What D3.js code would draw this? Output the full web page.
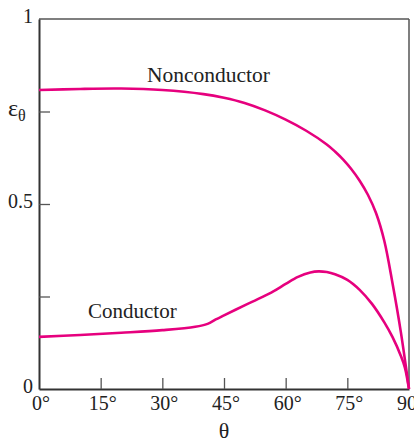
<!DOCTYPE html>
<html>
<head>
<meta charset="utf-8">
<script src="https://cdn.jsdelivr.net/npm/d3@7"></script>
<style>
  body { margin: 0; background: #fff; }
  svg { display: block; }
  text { font-family: "Liberation Serif", "DejaVu Serif", serif; fill: #222; }
</style>
</head>
<body>
<svg width="414" height="441"></svg>
<script>
// emissivity vs angle
var thetaNon = [0, 10, 20, 30, 40, 45, 50, 55, 60, 65, 70, 72, 74, 76, 78, 80, 82, 84, 86, 88, 90];
var epsNon = [0.808, 0.811, 0.812, 0.808, 0.797, 0.787, 0.773, 0.753, 0.728, 0.698, 0.661, 0.642, 0.620, 0.594, 0.563, 0.525, 0.475, 0.400, 0.285, 0.155, 0];

var thetaCond = [0, 10, 20, 30, 38, 41, 43, 45, 50, 54, 57, 60, 63, 66, 68, 70, 72, 75, 78, 81, 84, 86, 88, 89, 90];
var epsCond = [0.141, 0.146, 0.152, 0.159, 0.168, 0.176, 0.188, 0.199, 0.226, 0.247, 0.264, 0.284, 0.303, 0.315, 0.318, 0.316, 0.310, 0.295, 0.268, 0.230, 0.180, 0.140, 0.090, 0.058, 0];

var xTicks = [0, 15, 30, 45, 60, 75, 90];
var yTicks = [0, 0.25, 0.5, 0.75, 1];
var yTickLabels = ["0", "", "0.5", "", "1"];

var svg = d3.select("svg");
var pLeft = 39, pRight = 409, pTop = 19, pBottom = 389;

var x = d3.scaleLinear().domain([0, 90]).range([pLeft, pRight]);
var y = d3.scaleLinear().domain([0, 1]).range([pBottom, pTop]);

// frame (top + right)
svg.append("line").attr("x1", pLeft).attr("x2", pRight).attr("y1", pTop).attr("y2", pTop)
  .attr("stroke", "#555").attr("stroke-width", 1.5);
svg.append("line").attr("x1", pRight).attr("x2", pRight).attr("y1", pTop).attr("y2", pBottom)
  .attr("stroke", "#555").attr("stroke-width", 1.5);

var yAxis = svg.append("g").attr("transform", "translate(" + pLeft + ",0)")
  .call(d3.axisLeft(y).tickValues(yTicks).tickSizeInner(-11).tickSizeOuter(0).tickFormat(""));
var xAxis = svg.append("g").attr("transform", "translate(0," + pBottom + ")")
  .call(d3.axisBottom(x).tickValues(xTicks).tickSizeInner(-11).tickSizeOuter(0).tickFormat(""));

[yAxis, xAxis].forEach(function(a) {
  a.select(".domain").attr("stroke", "#333").attr("stroke-width", 2);
  a.selectAll(".tick line").attr("stroke", "#555").attr("stroke-width", 1.3);
});
xAxis.selectAll(".tick").filter(function(d) { return d == 0 || d == 90; }).select("line").remove();
yAxis.selectAll(".tick").filter(function(d) { return d == 0 || d == 1; }).select("line").remove();

// y tick labels
svg.selectAll(".ylab").data(yTicks).enter().append("text")
  .attr("x", 33).attr("y", function(d) { return y(d) + 4; })
  .attr("text-anchor", "end").attr("font-size", 20)
  .text(function(d, i) { return yTickLabels[i]; });

// eps_theta label at 0.75
var ey = svg.append("text").attr("x", 8).attr("y", y(0.75) + 4).attr("font-size", 24);
ey.append("tspan").text("ε");
ey.append("tspan").attr("font-size", 16).attr("dy", 5).text("θ");

// x tick labels
svg.selectAll(".xlab").data(xTicks).enter().append("text")
  .attr("x", function(d) { return x(d) + 2; }).attr("y", 410)
  .attr("text-anchor", "middle").attr("font-size", 20)
  .text(function(d) { return d + "°"; });

svg.append("text").attr("x", x(45)).attr("y", 438).attr("text-anchor", "middle")
  .attr("font-size", 22).text("θ");

var line = d3.line()
  .x(function(d) { return x(d[0]); })
  .y(function(d) { return y(d[1]); })
  .curve(d3.curveCatmullRom.alpha(0.5));

svg.append("path").datum(d3.zip(thetaNon, epsNon)).attr("d", line)
  .attr("fill", "none").attr("stroke", "#e6007e").attr("stroke-width", 2.6);
svg.append("path").datum(d3.zip(thetaCond, epsCond)).attr("d", line)
  .attr("fill", "none").attr("stroke", "#e6007e").attr("stroke-width", 2.6);

svg.append("text").attr("x", 147).attr("y", 82).attr("font-size", 21.5).text("Nonconductor");
svg.append("text").attr("x", 88).attr("y", 318).attr("font-size", 21).text("Conductor");
</script>
</body>
</html>
